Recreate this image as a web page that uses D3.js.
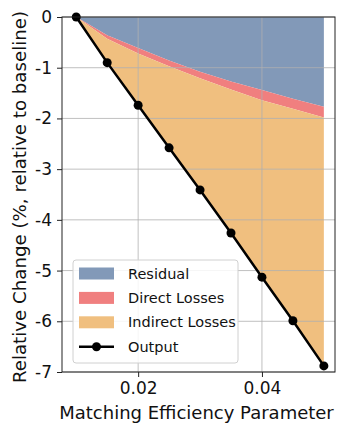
<!DOCTYPE html>
<html>
<head>
<meta charset="utf-8">
<script src="https://cdn.jsdelivr.net/npm/d3@7"></script>
<style>
  body { margin: 0; background: #fff; }
  svg { display: block; font-family: "DejaVu Sans", sans-serif; }
</style>
</head>
<body>
<svg id="canvas" width="346" height="426"></svg>
<script>
// matching efficiency parameter values
const efficiency = [0.01, 0.015, 0.02, 0.025, 0.03, 0.035, 0.04, 0.045, 0.05];
// components of the output change (%), stacked downward from 0
const residual = [0, -0.36, -0.61, -0.86, -1.08, -1.27, -1.44, -1.61, -1.77];
const directLosses = [0, -0.07, -0.11, -0.11, -0.13, -0.16, -0.2, -0.2, -0.21];
const indirectLosses = [0, -0.47, -1.02, -1.61, -2.2, -2.83, -3.49, -4.18, -4.9];
const output = [0, -0.9, -1.74, -2.58, -3.41, -4.26, -5.13, -5.99, -6.88];

const xTicks = [0.02, 0.04];
const yTicks = [0, -1, -2, -3, -4, -5, -6, -7];

const seriesNames = ["Residual", "Direct Losses", "Indirect Losses"];
const seriesColors = ["#8299b8", "#f07f7f", "#f0bf7f"];

const svg = d3.select("#canvas");
const plotLeft = 62, plotRight = 335, plotTop = 17, plotBottom = 372;

const x = d3.scaleLinear().domain([0.0077, 0.0518]).range([plotLeft, plotRight]);
const y = d3.scaleLinear().domain([-7, 0]).range([plotBottom, plotTop]);

// build rows for the stack
const rows = efficiency.map((e, i) => ({
  e: e,
  "Residual": residual[i],
  "Direct Losses": directLosses[i],
  "Indirect Losses": indirectLosses[i]
}));

const stack = d3.stack()
  .keys(seriesNames)
  .offset(d3.stackOffsetDiverging);
const layers = stack(rows);

const area = d3.area()
  .x((d) => x(d.data.e))
  .y0((d) => y(d[0]))
  .y1((d) => y(d[1]));

svg.append("g")
  .selectAll("path")
  .data(layers)
  .enter()
  .append("path")
  .attr("d", area)
  .attr("fill", (d, i) => seriesColors[i]);

// grid on top of the areas
const grid = svg.append("g").attr("stroke", "#b0b0b0").attr("stroke-width", 0.8);
grid.selectAll("line.gx")
  .data(xTicks)
  .enter()
  .append("line")
  .attr("x1", (d) => x(d)).attr("x2", (d) => x(d))
  .attr("y1", plotTop).attr("y2", plotBottom);
grid.selectAll("line.gy")
  .data(yTicks)
  .enter()
  .append("line")
  .attr("x1", plotLeft).attr("x2", plotRight)
  .attr("y1", (d) => y(d)).attr("y2", (d) => y(d));

// output line with markers
const line = d3.line()
  .x((d, i) => x(efficiency[i]))
  .y((d) => y(d));

svg.append("path")
  .datum(output)
  .attr("d", line)
  .attr("fill", "none")
  .attr("stroke", "#000")
  .attr("stroke-width", 2.5);

svg.append("g")
  .selectAll("circle")
  .data(output)
  .enter()
  .append("circle")
  .attr("cx", (d, i) => x(efficiency[i]))
  .attr("cy", (d) => y(d))
  .attr("r", 4.5)
  .attr("fill", "#000");

// axes
const xAxis = d3.axisBottom(x).tickValues(xTicks).tickSize(5).tickPadding(5)
  .tickFormat(d3.format(".2f"));
const yAxis = d3.axisLeft(y).tickValues(yTicks).tickSize(5).tickPadding(5)
  .tickFormat((d) => String(d));

const gx = svg.append("g").attr("transform", `translate(0,${plotBottom})`).call(xAxis);
const gy = svg.append("g").attr("transform", `translate(${plotLeft},0)`).call(yAxis);
[gx, gy].forEach((g) => {
  g.select(".domain").remove();
  g.selectAll("line").attr("stroke", "#222").attr("stroke-width", 1);
  g.selectAll("text").attr("font-size", 17).attr("fill", "#111")
    .attr("font-family", "DejaVu Sans, sans-serif");
});

// frame
svg.append("rect")
  .attr("x", plotLeft).attr("y", plotTop)
  .attr("width", plotRight - plotLeft).attr("height", plotBottom - plotTop)
  .attr("fill", "none").attr("stroke", "#222").attr("stroke-width", 1);

// axis labels
svg.append("text")
  .attr("x", (plotLeft + plotRight) / 2 - 2).attr("y", 419)
  .attr("text-anchor", "middle").attr("font-size", 18).attr("fill", "#111")
  .text("Matching Efficiency Parameter");

svg.append("text")
  .attr("transform", "translate(26,197) rotate(-90)")
  .attr("text-anchor", "middle").attr("font-size", 18.2).attr("fill", "#111")
  .text("Relative Change (%, relative to baseline)");

// legend
const legend = svg.append("g");
legend.append("rect")
  .attr("x", 73).attr("y", 260).attr("width", 165).attr("height", 103)
  .attr("rx", 3).attr("fill", "#fff").attr("fill-opacity", 0.85)
  .attr("stroke", "#d0d0d0").attr("stroke-width", 1);

const legendItems = seriesNames.concat(["Output"]);
const item = legend.selectAll("g")
  .data(legendItems)
  .enter()
  .append("g")
  .attr("transform", (d, i) => `translate(0,${273.5 + i * 24.4})`);

item.filter((d, i) => i < 3)
  .append("rect")
  .attr("x", 79).attr("y", -6).attr("width", 35).attr("height", 12)
  .attr("fill", (d, i) => seriesColors[i]);

const outItem = item.filter((d, i) => i === 3);
outItem.append("line")
  .attr("x1", 79).attr("x2", 114).attr("y1", 0).attr("y2", 0)
  .attr("stroke", "#000").attr("stroke-width", 2.5);
outItem.append("circle")
  .attr("cx", 96.5).attr("cy", 0).attr("r", 4.5).attr("fill", "#000");

item.append("text")
  .attr("x", 128).attr("y", 0).attr("dy", "0.35em")
  .attr("font-size", 14.5).attr("fill", "#111")
  .text((d) => d);
</script>
</body>
</html>
